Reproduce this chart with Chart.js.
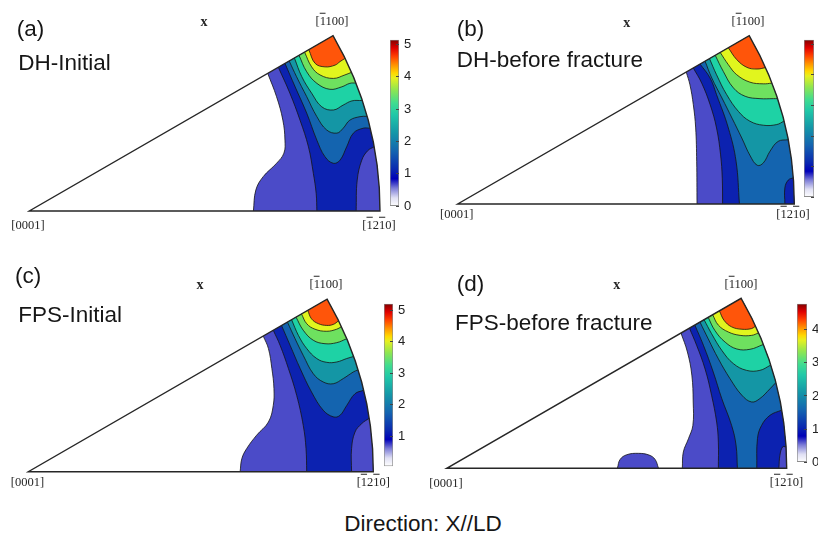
<!DOCTYPE html>
<html><head><meta charset="utf-8">
<script src="https://cdn.jsdelivr.net/npm/chart.js@4.4.1/dist/chart.umd.min.js"></script>
<style>
html,body{margin:0;padding:0;background:#fff;}
#page{position:relative;width:818px;height:536px;overflow:hidden;background:#fff;}
canvas{position:absolute;}
.lbl{position:absolute;font-family:"Liberation Sans",Arial,sans-serif;font-size:22.5px;line-height:22.5px;color:#161616;white-space:nowrap;}
.dir{position:absolute;font-family:"Liberation Serif","Times New Roman",serif;font-size:12.5px;line-height:12.5px;color:#262626;white-space:nowrap;transform:translate(-50%,-50%);}
.ob{text-decoration:overline;}
.xl{position:absolute;font-family:"Liberation Serif","Times New Roman",serif;font-weight:bold;font-size:14px;line-height:14px;color:#262626;transform:translate(-50%,-50%);}
</style></head>
<body><div id="page"></div>
<script>
// ---------------- DATA (normalised IPF coordinates: [0001] at (0,0), [-12-10] at (1,0), [-1100] at (cos30,sin30)) ----------------
// contour-band fill colours (band 0 = white ... band 8 = highest)
const bandColors = ['#ffffff','#4b4bc8','#0c22b0','#1464af','#1496a5','#1ed2a5','#6ee15f','#e1f51e','#ff550a'];
// colour-bar colour map (fraction of range, colour)
const colormapStops = [[0,'#ffffff'],[0.05,'#e0e0f4'],[0.11,'#7a7ad6'],[0.165,'#0000b8'],[0.22,'#0a28b0'],[0.33,'#1464b0'],[0.44,'#1496a8'],[0.55,'#20c8a8'],[0.62,'#40dc90'],[0.70,'#90e650'],[0.77,'#e6f020'],[0.80,'#ffd800'],[0.85,'#ff9000'],[0.90,'#ff4000'],[0.95,'#e00000'],[1,'#800000']];
// colour-bar ranges and tick labels
const cbRangeA = [0, 5.14], cbTicksA = [0,1,2,3,4,5];
const cbRangeB = [0, 5.15], cbTicksB = [0,1,2,3,4,5];
const cbRangeC = [0.04, 5.21], cbTicksC = [1,2,3,4,5];
const cbRangeD = [0, 4.78], cbTicksD = [0,1,2,3,4];

// (a) DH-Initial contours
const A1 = [[0.680,0.392],[0.705,0.326],[0.723,0.259],[0.729,0.202],[0.726,0.165],[0.705,0.136],[0.667,0.098],[0.646,0.060],[0.639,0]];
const A2 = [[0.710,0.410],[0.743,0.336],[0.772,0.259],[0.796,0.183],[0.810,0.107],[0.818,0.050],[0.820,0]];
const APocket = [[0.932,0],[0.935,0.088],[0.948,0.145],[0.965,0.172],[0.983,0.183]];
const A3 = [[0.729,0.421],[0.758,0.354],[0.791,0.279],[0.820,0.202],[0.843,0.155],[0.867,0.136],[0.886,0.145],[0.905,0.183],[0.924,0.222],[0.952,0.236],[0.972,0.236]];
const A4 = [[0.741,0.428],[0.762,0.383],[0.791,0.326],[0.820,0.269],[0.848,0.231],[0.877,0.222],[0.895,0.236],[0.914,0.259],[0.943,0.269],[0.963,0.270]];
const A5 = [[0.756,0.436],[0.777,0.383],[0.805,0.336],[0.834,0.297],[0.867,0.288],[0.895,0.302],[0.920,0.314],[0.949,0.315]];
const A6 = [[0.769,0.444],[0.791,0.397],[0.820,0.364],[0.857,0.347],[0.891,0.354],[0.914,0.364],[0.931,0.365]];
const A7 = [[0.785,0.453],[0.805,0.411],[0.829,0.388],[0.867,0.378],[0.900,0.388],[0.918,0.395]];
const A8 = [[0.797,0.460],[0.815,0.421],[0.843,0.411],[0.872,0.416],[0.886,0.426],[0.900,0.435]];

// (b) DH-before fracture contours
const B1 = [[0.679,0.392],[0.690,0.354],[0.700,0.295],[0.707,0.226],[0.710,0.127],[0.711,0]];
const B2 = [[0.700,0.404],[0.725,0.359],[0.750,0.295],[0.769,0.226],[0.781,0.146],[0.786,0.077],[0.787,0]];
const B3 = [[0.720,0.416],[0.750,0.374],[0.769,0.325],[0.804,0.226],[0.827,0.127],[0.837,0]];
const BPocket = [[0.972,0],[0.972,0.048],[0.982,0.071],[0.997,0.078]];
const B4 = [[0.735,0.424],[0.755,0.374],[0.785,0.315],[0.815,0.255],[0.844,0.196],[0.869,0.143],[0.890,0.115],[0.908,0.122],[0.928,0.157],[0.952,0.186],[0.982,0.191]];
const B5 = [[0.748,0.432],[0.769,0.384],[0.799,0.325],[0.834,0.275],[0.868,0.246],[0.908,0.234],[0.948,0.236],[0.969,0.246]];
const B6 = [[0.765,0.442],[0.789,0.394],[0.819,0.345],[0.854,0.320],[0.898,0.313],[0.938,0.313],[0.950,0.313]];
const B7 = [[0.780,0.450],[0.804,0.414],[0.829,0.384],[0.868,0.362],[0.908,0.357],[0.933,0.359]];
const B8 = [[0.804,0.464],[0.829,0.429],[0.859,0.406],[0.889,0.401],[0.914,0.405]];

// (c) FPS-Initial contours
const C1 = [[0.681,0.393],[0.696,0.357],[0.706,0.299],[0.712,0.241],[0.710,0.192],[0.696,0.144],[0.662,0.106],[0.633,0.067],[0.619,0.038],[0.614,0]];
const C2 = [[0.710,0.410],[0.730,0.366],[0.754,0.299],[0.778,0.221],[0.797,0.134],[0.805,0.067],[0.807,0]];
const CPocket = [[0.937,0],[0.937,0.067],[0.947,0.115],[0.966,0.139],[0.988,0.155]];
const C3 = [[0.734,0.424],[0.759,0.366],[0.788,0.299],[0.821,0.231],[0.855,0.178],[0.884,0.159],[0.903,0.163],[0.923,0.192],[0.947,0.226],[0.972,0.236]];
const C4 = [[0.751,0.434],[0.773,0.386],[0.797,0.337],[0.826,0.284],[0.855,0.260],[0.884,0.255],[0.913,0.270],[0.942,0.289],[0.955,0.295]];
const C5 = [[0.763,0.441],[0.783,0.395],[0.807,0.357],[0.836,0.328],[0.865,0.317],[0.894,0.318],[0.923,0.328],[0.943,0.334]];
const C6 = [[0.776,0.448],[0.797,0.410],[0.826,0.381],[0.860,0.371],[0.894,0.374],[0.922,0.385]];
const C7 = [[0.792,0.457],[0.807,0.429],[0.831,0.413],[0.865,0.407],[0.894,0.413],[0.907,0.420]];
const C8 = [[0.810,0.468],[0.821,0.443],[0.841,0.429],[0.865,0.424],[0.884,0.427],[0.899,0.437]];

// (d) FPS-before fracture contours
const D1 = [[0.689,0.398],[0.708,0.342],[0.721,0.274],[0.725,0.195],[0.724,0.126],[0.711,0.087],[0.696,0.048],[0.693,0]];
const DBump = [[0.502,0],[0.510,0.026],[0.530,0.040],[0.564,0.044],[0.595,0.039],[0.613,0.026],[0.623,0]];
const D2 = [[0.714,0.412],[0.735,0.362],[0.760,0.292],[0.779,0.215],[0.794,0.136],[0.799,0.077],[0.799,0]];
const D3 = [[0.730,0.421],[0.755,0.362],[0.784,0.283],[0.809,0.205],[0.838,0.126],[0.851,0.068],[0.855,0]];
const D3b = [[0.912,0],[0.914,0.087],[0.926,0.126],[0.951,0.156],[0.985,0.171]];
const DPocket = [[0.977,0],[0.980,0.038],[0.988,0.063],[0.998,0.063]];
const D4 = [[0.745,0.430],[0.769,0.381],[0.799,0.322],[0.833,0.264],[0.868,0.215],[0.897,0.195],[0.921,0.205],[0.951,0.234],[0.966,0.250]];
const D5 = [[0.757,0.437],[0.779,0.396],[0.809,0.347],[0.843,0.308],[0.882,0.288],[0.921,0.288],[0.952,0.303]];
const D6 = [[0.769,0.444],[0.789,0.405],[0.819,0.371],[0.853,0.351],[0.892,0.350],[0.931,0.364]];
const D7 = [[0.782,0.452],[0.799,0.421],[0.828,0.401],[0.863,0.391],[0.897,0.391],[0.917,0.398]];
const D8 = [[0.802,0.463],[0.816,0.435],[0.838,0.416],[0.868,0.409],[0.897,0.411],[0.908,0.418]];

// region lists in drawing order: [contour, band, kind]
// kind: EA = edge->arc (region holds apex), EB = edge->bottom (region holds right part),
//       BA = bottom->arc pocket, BB = bottom->bottom bump
const regionsA = [[A1,1,'EB'],[A2,2,'EB'],[APocket,1,'BA'],[A3,3,'EA'],[A4,4,'EA'],[A5,5,'EA'],[A6,6,'EA'],[A7,7,'EA'],[A8,8,'EA']];
const regionsB = [[B1,1,'EB'],[B2,2,'EB'],[B3,3,'EB'],[BPocket,2,'BA'],[B4,4,'EA'],[B5,5,'EA'],[B6,6,'EA'],[B7,7,'EA'],[B8,8,'EA']];
const regionsC = [[C1,1,'EB'],[C2,2,'EB'],[CPocket,1,'BA'],[C3,3,'EA'],[C4,4,'EA'],[C5,5,'EA'],[C6,6,'EA'],[C7,7,'EA'],[C8,8,'EA']];
const regionsD = [[D1,1,'EB'],[DBump,1,'BB'],[D2,2,'EB'],[D3,3,'EB'],[D3b,2,'BA'],[DPocket,1,'BA'],[D4,4,'EA'],[D5,5,'EA'],[D6,6,'EA'],[D7,7,'EA'],[D8,8,'EA']];

// ---------------- LAYOUT ----------------
const page = document.getElementById('page');
const panels = [
  {ox:29.3, oy:211,   R:350.7, regions:regionsA},
  {ox:457.7, oy:204,  R:336.6, regions:regionsB},
  {ox:28.3, oy:471.7, R:345,   regions:regionsC},
  {ox:446.7, oy:468.3,R:340,   regions:regionsD}
];
const colorbars = [
  {l:390,   t:31.7,  r:399.3, b:213.3, range:cbRangeA, ticks:cbTicksA},
  {l:804.3, t:31.7,  r:814.3, b:205,   range:cbRangeB, ticks:cbTicksB},
  {l:384,   t:295.7, r:392.7, b:474,   range:cbRangeC, ticks:cbTicksC},
  {l:796.7, t:295.7, r:806.7, b:470,   range:cbRangeD, ticks:cbTicksD}
];

function addCanvas(left, top, w, h){
  const c = document.createElement('canvas');
  c.width = w; c.height = h;
  c.style.left = left + 'px'; c.style.top = top + 'px';
  c.style.width = w + 'px'; c.style.height = h + 'px';
  page.appendChild(c);
  return c;
}
function extend(p, q, d){
  const dx = p[0]-q[0], dy = p[1]-q[1], L = Math.hypot(dx, dy) || 1;
  return [p[0] + d*dx/L, p[1] + d*dy/L];
}
// closes a contour around the outside of the sector (the sector clip hides everything outside)
function regionPolygon(c, kind){
  const n = c.length, s = extend(c[0], c[1], 0.05), e = extend(c[n-1], c[n-2], 0.05);
  const F = 1.3, T = 0.9, Bm = -0.08;
  let pts;
  if (kind === 'EA') pts = [[F,T],[s[0],T], s, ...c, e, [F,e[1]]];
  else if (kind === 'EB') pts = [[F,T],[s[0],T], s, ...c, e, [F,Bm]];
  else if (kind === 'BA') pts = [[F,Bm], s, ...c, e, [F,e[1]]];
  else pts = [[0.95,Bm], s, ...c, e];
  return pts.map(p => ({x:p[0], y:p[1]}));
}
function sectorPath(chart){
  const xs = chart.scales.x, ys = chart.scales.y, ctx = chart.ctx;
  const cx = xs.getPixelForValue(0), cy = ys.getPixelForValue(0);
  const r = xs.getPixelForValue(1) - cx;
  ctx.beginPath();
  ctx.moveTo(cx, cy);
  ctx.lineTo(cx + r, cy);
  ctx.arc(cx, cy, r, 0, -Math.PI/6, true);
  ctx.closePath();
}
const sectorPlugin = {
  id:'sectorClip',
  beforeDatasetsDraw(chart){ chart.ctx.save(); sectorPath(chart); chart.ctx.clip(); },
  afterDatasetsDraw(chart){
    const ctx = chart.ctx; ctx.restore();
    ctx.save(); sectorPath(chart);
    ctx.lineWidth = 1.4; ctx.strokeStyle = '#262626'; ctx.lineJoin = 'miter'; ctx.stroke();
    ctx.restore();
  }
};

panels.forEach(p => {
  const left = Math.floor(p.ox - 0.06*p.R), top = Math.floor(p.oy - 0.56*p.R);
  const W = Math.ceil(1.12*p.R), H = Math.ceil(0.62*p.R);
  const cv = addCanvas(left, top, W, H);
  const xmin = (left - p.ox)/p.R, xmax = (left + W - p.ox)/p.R;
  const ymax = (p.oy - top)/p.R, ymin = (p.oy - top - H)/p.R;
  const datasets = p.regions.map(([c, band, kind]) => ({
    data: regionPolygon(c, kind),
    showLine: true, fill: 'shape', tension: 0.4,
    backgroundColor: bandColors[band], borderColor: '#151515', borderWidth: 0.8,
    pointRadius: 0, pointHoverRadius: 0
  })).reverse(); // Chart.js paints index 0 last, so lowest band must be last
  new Chart(cv, {
    type: 'scatter',
    data: {datasets},
    options: {
      responsive:false, animation:false, devicePixelRatio:1, events:[],
      layout:{padding:0},
      elements:{line:{capBezierPoints:false}},
      plugins:{legend:{display:false}, tooltip:{enabled:false}},
      scales:{
        x:{type:'linear', display:false, min:xmin, max:xmax},
        y:{type:'linear', display:false, min:ymin, max:ymax}
      }
    },
    plugins:[sectorPlugin]
  });
});

colorbars.forEach(cb => {
  const left = Math.round(cb.l), top = Math.round(cb.t) - 8;
  const bw = Math.round(cb.r - cb.l), bh = Math.round(cb.b - cb.t);
  const axisW = 22;
  const cv = addCanvas(left, top, bw + axisW, bh + 16);
  const [vmin, vmax] = cb.range;
  new Chart(cv, {
    type:'bar',
    data:{labels:[''], datasets:[{
      data:[[vmin, vmax]],
      backgroundColor(ctx){
        const ch = ctx.chart, ca = ch.chartArea;
        if (!ca) return '#fff';
        const g = ch.ctx.createLinearGradient(0, ca.bottom, 0, ca.top);
        colormapStops.forEach(([t, c]) => g.addColorStop(t, c));
        return g;
      },
      borderColor:'#8c8c8c', borderWidth:1, borderSkipped:false,
      barPercentage:1, categoryPercentage:1
    }]},
    options:{
      responsive:false, animation:false, devicePixelRatio:1, events:[],
      layout:{padding:{top:8, bottom:8, left:0, right:0}},
      plugins:{legend:{display:false}, tooltip:{enabled:false}},
      scales:{
        x:{display:false},
        y:{position:'right', min:vmin, max:vmax,
           afterFit(s){ s.width = axisW; },
           afterBuildTicks(s){ s.ticks = cb.ticks.map(v => ({value:v})); },
           ticks:{font:{family:'Liberation Sans', size:13}, color:'#222', padding:8},
           grid:{drawOnChartArea:false, drawTicks:true, tickLength:-3, tickColor:'#444', z:1},
           border:{display:false}}
      }
    }
  });
});

// ---------------- TEXT ----------------
function addDiv(cls, html, x, y, extra){
  const d = document.createElement('div');
  d.className = cls; d.innerHTML = html;
  d.style.left = x + 'px'; d.style.top = y + 'px';
  if (extra) d.style.transform = extra;
  page.appendChild(d);
}
const BASE = 19.05; // baseline offset of 22.5px Liberation Sans with line-height = font-size
const titles = [
  ['(a)', 16.7, 37.3], ['DH-Initial', 18.3, 71],
  ['(b)', 456.7, 37.3], ['DH-before fracture', 456.7, 68.5],
  ['(c)', 15, 284.3], ['FPS-Initial', 18.3, 323.3],
  ['(d)', 456.7, 292.3], ['FPS-before fracture', 455, 331]
];
titles.forEach(([t, x, b]) => addDiv('lbl', t, x, b - BASE));
addDiv('lbl', 'Direction: X//LD', 423, 532.3 - BASE, 'translateX(-50%)');

const L0001 = '[0001]';
const L1100 = '[<span class="ob">1</span>100]';
const L1210 = '[<span class="ob">1</span>2<span class="ob">1</span>0]';
const dirLabels = [
  [L0001, 28, 225], [L1100, 332, 21], [L1210, 379, 225],
  [L0001, 456.7, 214], [L1100, 748, 21], [L1210, 793, 214],
  [L0001, 27.5, 481.5], [L1100, 326, 284], [L1210, 373.3, 481.5],
  [L0001, 446, 482.5], [L1100, 741, 283.5], [L1210, 786.5, 482]
];
dirLabels.forEach(([t, x, y]) => addDiv('dir', t, x, y));
[[204, 22], [626.7, 22.5], [200, 285], [616.7, 285]].forEach(([x, y]) => addDiv('xl', 'x', x, y));
</script></body></html>
